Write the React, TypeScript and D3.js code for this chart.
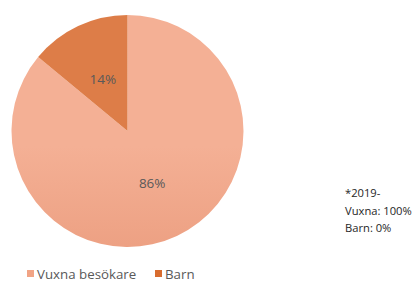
import React from 'react';
import * as d3 from 'd3';

const categories = ['Vuxna besökare', 'Barn'];
const values = [86, 14];
const labels = ['86%', '14%'];
const colors = ['#f1a485', '#d86c2f'];
const gradTop = ['#f4b095', '#dd7d48'];
const gradBottom = ['#e48d6c', '#d4621e'];
const noteLines = ['*2019-', 'Vuxna: 100%', 'Barn: 0%'];

const W = 416;
const H = 284;
const cx = 127.5;
const cy = 131;
const r = 116;

export default function App() {
  const pie = d3.pie<number>().sort(null).startAngle(0).endAngle(2 * Math.PI);
  const arcs = pie(values);
  const arc = d3.arc<d3.PieArcDatum<number>>().innerRadius(0).outerRadius(r);
  const labelArc = d3.arc<d3.PieArcDatum<number>>().innerRadius(r * 0.5).outerRadius(r * 0.5);
  const font = "'Open Sans', 'Liberation Sans', sans-serif";

  return (
    <svg width={W} height={H} style={{ position: 'absolute', left: 0, top: 0 }} fontFamily={font}>
      <defs>
        {categories.map((_, i) => (
          <linearGradient key={i} id={`g${i}`} gradientUnits="userSpaceOnUse" x1={0} y1={cy - r} x2={0} y2={cy + r}>
            <stop offset="0%" stopColor={gradTop[i]} />
            <stop offset="100%" stopColor={gradBottom[i]} />
          </linearGradient>
        ))}
      </defs>
      <rect width={W} height={H} fill="#fff" />
      <g transform={`translate(${cx},${cy})`}>
        {arcs.map((a, i) => (
          <path key={i} d={arc(a) || ''} fill={`url(#g${i})`} />
        ))}
        {arcs.map((a, i) => {
          const [x, y] = labelArc.centroid(a);
          return (
            <text key={i} x={x} y={y} textAnchor="middle" dominantBaseline="central" fontSize={13.5} fill="#595959">
              {labels[i]}
            </text>
          );
        })}
      </g>
      {noteLines.map((t, i) => (
        <text key={t} x={345} y={197 + i * 17.5} fontSize={11.2} fill="#262626">
          {t}
        </text>
      ))}
      {categories.map((c, i) => {
        const x = i === 0 ? 27 : 155;
        return (
          <g key={c}>
            <rect x={x} y={270} width={7} height={7} fill={colors[i]} />
            <text x={x + 10} y={279} fontSize={13.3} fill="#595959">
              {c}
            </text>
          </g>
        );
      })}
    </svg>
  );
}
